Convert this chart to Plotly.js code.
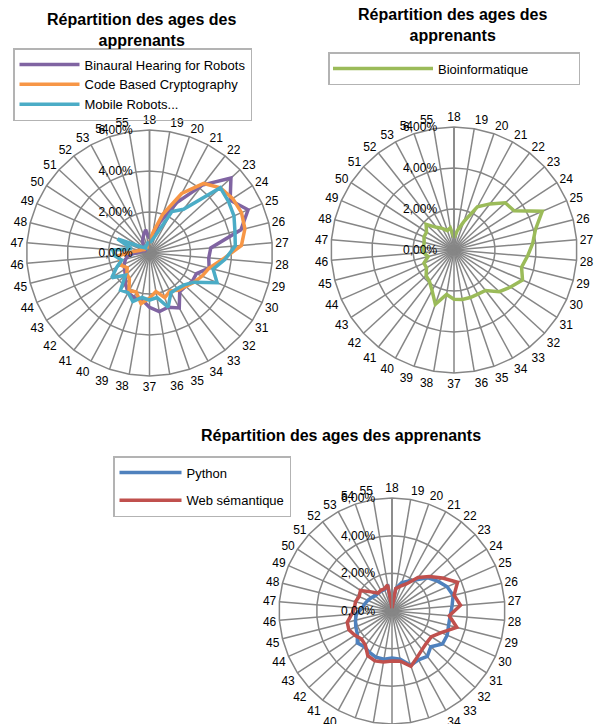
<!DOCTYPE html>
<html>
<head>
<meta charset="utf-8">
<script src="https://cdn.plot.ly/plotly-3.0.1.min.js"></script>
<style>html,body{margin:0;padding:0;background:#fff}#chart{width:594px;height:724px}</style>
</head>
<body>
<div id="chart"></div>
<script>
// Age categories (angular axis)
const ages = [18,19,20,21,22,23,24,25,26,27,28,29,30,31,32,33,34,35,36,37,38,39,40,41,42,43,44,45,46,47,48,49,50,51,52,53,54,55];

// Values in percent, one per age
const binaural = [0.7,0.9,1.6,2.8,4.2,5.4,4.7,5.25,4.6,3.0,2.9,3.0,2.5,2.5,2.4,2.4,3.05,2.8,2.9,2.65,2.3,2.3,2.2,1.9,1.6,1.45,1.35,1.2,1.0,0.5,0.4,0.3,0.2,0.3,0.5,0.7,0.9,1.15];
const codeCrypto = [0.5,1.0,2.0,3.3,4.3,4.7,4.85,4.9,4.8,4.5,3.6,3.0,2.8,2.6,2.4,2.3,2.1,2.3,1.9,2.2,2.5,2.0,2.1,1.6,1.5,1.3,1.5,1.5,1.5,0.8,0.5,0.4,0.3,0.3,0.3,0.3,0.3,0.4];
const mobileRobots = [0.5,0.6,0.9,2.3,2.7,4.7,4.6,4.5,4.3,4.2,3.7,3.2,3.6,2.6,2.3,2.2,2.2,2.8,2.2,2.3,2.2,2.5,2.2,2.3,1.6,2.2,1.75,1.4,1.7,1.8,0.9,1.7,0.6,0.4,0.3,0.4,0.4,0.5];
const bioinfo = [0.6,0.95,1.45,2.4,2.85,3.4,3.5,4.7,4.1,3.85,3.6,3.4,3.65,3.3,3.0,2.5,2.45,2.45,2.45,2.4,2.2,2.8,2.25,1.95,1.85,1.6,1.6,1.3,1.5,1.5,1.5,1.6,1.6,1.85,1.4,1.2,1.0,1.1];
const python = [0.2,1.2,1.6,1.8,2.1,2.6,2.9,3.2,3.35,3.2,3.1,3.1,3.2,3.2,2.8,3.05,2.95,3.05,2.6,2.5,2.6,2.6,2.5,2.4,2.5,2.2,2.1,2.0,1.9,1.6,1.5,1.4,1.3,1.2,1.2,1.2,1.2,1.3];
const webSem = [0.15,1.2,1.4,1.65,2.25,2.7,3.2,3.8,3.4,3.65,3.05,3.55,2.85,2.5,2.5,2.6,2.8,3.1,2.7,2.65,2.75,2.8,2.7,2.3,2.2,2.35,2.5,2.45,2.15,2.0,2.0,1.9,2.0,1.5,1.2,1.25,1.25,1.4];

const seriesNames = ['Binaural Hearing for Robots','Code Based Cryptography','Mobile Robots...','Bioinformatique','Python','Web sémantique'];
const colors = ['#8064A2','#F79646','#4BACC6','#9BBB59','#4F81BD','#C0504D'];
const titleText = 'Répartition des ages des apprenants';

const W = 594, H = 724;
const cats = ages.map(String);
function closeR(v){ return v.map(x => x/100).concat([v[0]/100]); }
const closedTheta = cats.concat([cats[0]]);

function trace(vals, idx, subplot, legend){
  return {
    type:'scatterpolar', mode:'lines', subplot: subplot, legend: legend,
    r: closeR(vals), theta: closedTheta, name: seriesNames[idx],
    legendgroup: 'g' + idx,
    line:{color: colors[idx], width:3.5},
    hoverinfo:'skip'
  };
}

const data = [
  trace(binaural,0,'polar','legend'),
  trace(codeCrypto,1,'polar','legend'),
  trace(mobileRobots,2,'polar','legend'),
  trace(bioinfo,3,'polar2','legend2'),
  trace(python,4,'polar3','legend3'),
  trace(webSem,5,'polar3','legend3')
];

const grey = '#868686';
function polar(cx, cy, rad){
  const x0 = Math.max(0,(cx-rad)/W), x1 = Math.min(1,(cx+rad)/W);
  const y0 = Math.max(0,1-(cy+rad)/H), y1 = Math.min(1,1-(cy-rad)/H);
  return {
    domain:{x:[x0,x1], y:[y0,y1]},
    bgcolor:'#ffffff',
    gridshape:'linear',
    angularaxis:{type:'category', categoryarray:cats, rotation:90, direction:'clockwise',
      showline:true, linecolor:grey, linewidth:1.5, showgrid:true, gridcolor:grey, gridwidth:1.5,
      ticks:'', tickfont:{size:12, color:'#000'}},
    radialaxis:{range:[0,0.06], dtick:0.02, tick0:0, tickformat:'.2%', angle:90, side:'counterclockwise',
      showline:true, linecolor:grey, linewidth:1.5, showgrid:true, gridcolor:grey, gridwidth:1.5,
      ticks:'outside', ticklen:12, tickcolor:'rgba(0,0,0,0)', tickangle:90, tickfont:{size:12, color:'#000'}}
  };
}

const legBase = {bgcolor:'#ffffff', bordercolor:'#B3B3B3', borderwidth:1.5, font:{size:13, color:'#000'},
  xanchor:'left', yanchor:'top', orientation:'v', traceorder:'grouped'};

const layout = {
  width:W, height:H, margin:{l:0,r:0,t:0,b:0}, paper_bgcolor:'#fff',
  separators:', ',
  font:{family:'Liberation Sans, Arial, sans-serif', color:'#000'},
  showlegend:true,
  polar: polar(149.5,253,123),
  polar2: polar(454,250,123),
  polar3: polar(392,611,113),
  legend: Object.assign({}, legBase, {x:13/W, y:1-48/H, itemwidth:60, tracegroupgap:0, bgcolor:'rgba(255,255,255,0)'}),
  legend2: Object.assign({}, legBase, {x:328/W, y:1-52/H, itemwidth:100, orientation:'h', entrywidth:135}),
  legend3: Object.assign({}, legBase, {x:113/W, y:1-456/H, itemwidth:62, tracegroupgap:8}),
  annotations:[
    {text:'<b>Répartition des ages des<br>apprenants</b>', x:141/W, y:1-30/H, xref:'paper', yref:'paper', showarrow:false, xanchor:'center', yanchor:'middle', font:{size:16}},
    {text:'<b>Répartition des ages des<br>apprenants</b>', x:452/W, y:1-25/H, xref:'paper', yref:'paper', showarrow:false, xanchor:'center', yanchor:'middle', font:{size:16}},
    {text:'<b>'+titleText+'</b>', x:341/W, y:1-435/H, xref:'paper', yref:'paper', showarrow:false, xanchor:'center', yanchor:'middle', font:{size:16}}
  ]
};

Plotly.newPlot('chart', data, layout, {staticPlot:true, displayModeBar:false});
</script>
</body>
</html>
